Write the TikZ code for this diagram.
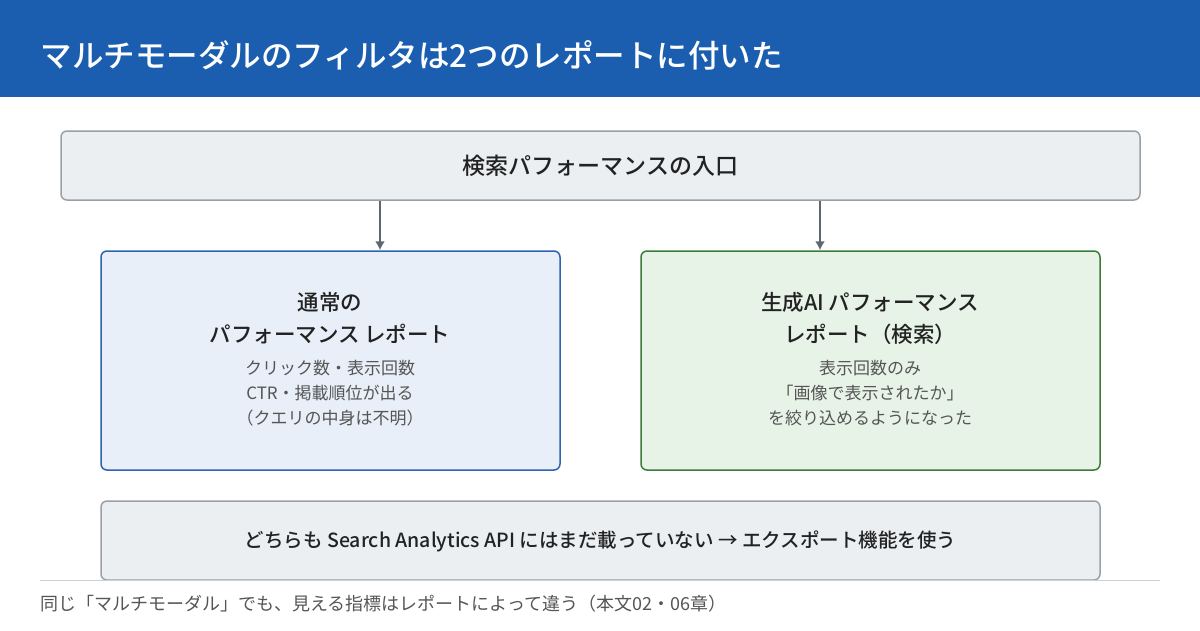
\documentclass[tikz,border=0pt]{standalone}
\usepackage{fontspec}
\setmainfont{Noto Sans CJK JP}
\newfontfamily\medfont{Noto Sans CJK JP Medium}
\usetikzlibrary{positioning,arrows.meta}
\definecolor{hdblue}{HTML}{1B5EB0}
\definecolor{boxgray}{HTML}{ECEFF2}
\definecolor{edgegray}{HTML}{9AA0A8}
\definecolor{arrgray}{HTML}{5F6670}
\definecolor{bluefill}{HTML}{E8EFF9}
\definecolor{blueedge}{HTML}{2F62B0}
\definecolor{greenfill}{HTML}{E8F3E8}
\definecolor{greenedge}{HTML}{3A7D3A}
\definecolor{txt}{HTML}{222222}
\definecolor{subtxt}{HTML}{555555}
\tikzset{every picture/.style={line width=1.5pt}}
\begin{document}
\begin{tikzpicture}[x=1pt,y=-1pt,
  panel/.style={draw=edgegray,fill=boxgray,rounded corners=6pt,line width=1.5pt},
  flow/.style={draw=arrgray,line width=2pt,-{Latex[length=9pt,width=10pt]}},
  head/.style={font=\medfont\fontsize{21.5}{32}\selectfont,text=txt,align=center},
  body/.style={font=\fontsize{17}{25}\selectfont,text=subtxt,align=center}]
\useasboundingbox (0,0) rectangle (1200,630);
% header
\fill[hdblue] (0,0) rectangle (1200,97);
\node (title) [anchor=west,inner sep=0pt,text=white,font=\medfont\fontsize{31.5}{36}\selectfont] at (40,55) {マルチモーダルのフィルタは2つのレポートに付いた};

% entry box
\draw[panel] (61,131) rectangle (1140,200);
\node (top) [minimum width=1079pt,minimum height=69pt,font=\medfont\fontsize{23}{26}\selectfont,text=txt] at (600.5,165.5) {検索パフォーマンスの入口};

% two reports
\draw[panel,draw=blueedge,fill=bluefill] (101,251) rectangle (560,470);
\node (normal) [minimum width=459pt,minimum height=219pt] at (330.5,360.5) {};
\node (normalhd) [head] at (330,318) {通常の\\パフォーマンス レポート};
\node (normalbd) [body] at (330,393) {クリック数・表示回数\\CTR・掲載順位が出る\\（クエリの中身は不明）};

\draw[panel,draw=greenedge,fill=greenfill] (641,251) rectangle (1100,470);
\node (genai) [minimum width=459pt,minimum height=219pt] at (870.5,360.5) {};
\node (genaihd) [head] at (870,318) {生成AI パフォーマンス\\レポート（検索）};
\node (genaibd) [body] at (870,393) {表示回数のみ\\「画像で表示されたか」\\を絞り込めるようになった};

\coordinate (la) at (380,0);
\coordinate (ra) at (820,0);
\draw[flow] (top.south -| la) -- (normal.north -| la);
\draw[flow] (top.south -| ra) -- (genai.north -| ra);

% bottom note
\draw[panel] (101,501) rectangle (1100,580);
\node (api) [font=\medfont\fontsize{19.5}{22}\selectfont,text=txt] at (600.5,541) {どちらも Search Analytics API にはまだ載っていない → エクスポート機能を使う};

% footer
\coordinate (fl) at (40,580);
\coordinate (fr) at (1160,580);
\draw[edgegray!50,line width=1pt] (fl) -- (fr);
\node (foot) [anchor=west,inner sep=0pt,font=\fontsize{18}{20}\selectfont,text=subtxt] at (40,604) {同じ「マルチモーダル」でも、見える指標はレポートによって違う（本文02・06章）};
\end{tikzpicture}
\end{document}
